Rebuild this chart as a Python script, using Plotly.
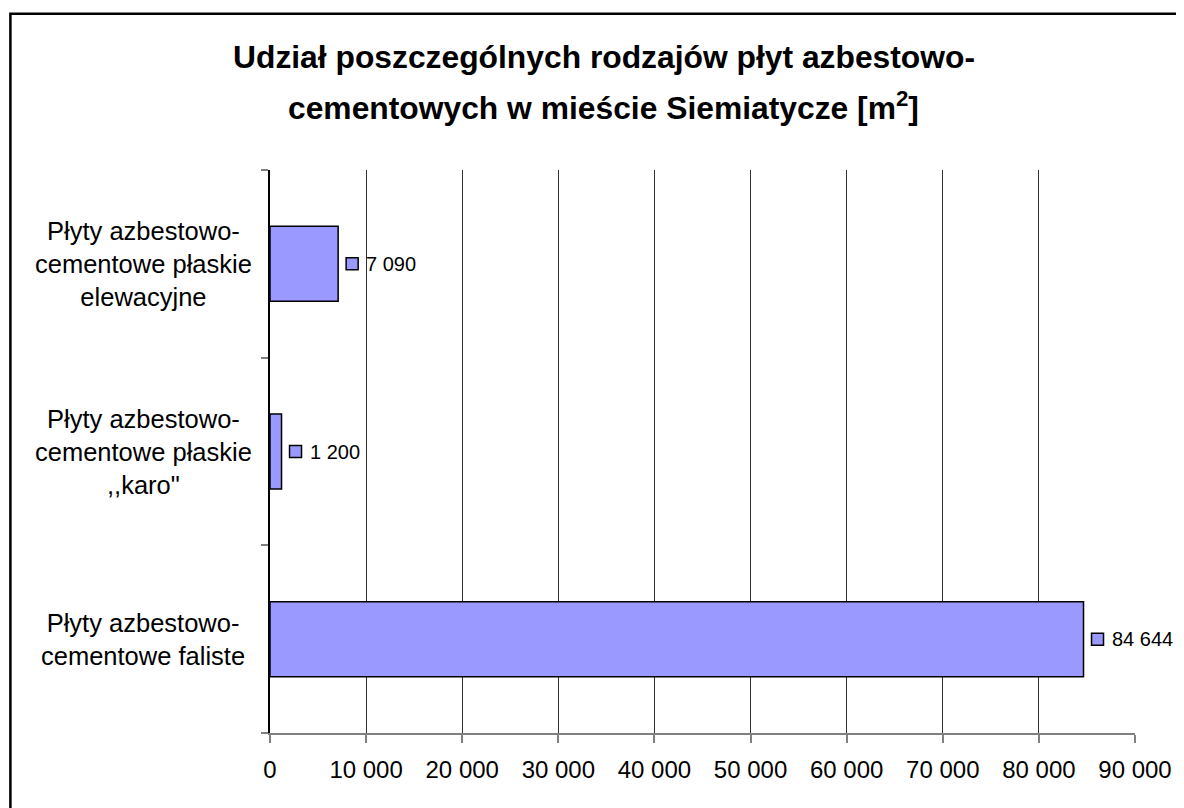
import plotly.graph_objects as go

categories = [
    "Płyty azbestowo-<br>cementowe faliste",
    "Płyty azbestowo-<br>cementowe płaskie<br>,,karo\"",
    "Płyty azbestowo-<br>cementowe płaskie<br>elewacyjne",
]
values = [84644, 1200, 7090]
tick_values = [0, 10000, 20000, 30000, 40000, 50000, 60000, 70000, 80000, 90000]
title_line1 = "Udział poszczególnych rodzajów płyt azbestowo-"
title_line2 = "cementowych w mieście Siemiatycze [m<sup>2</sup>]"

FONT = "Arial, Liberation Sans, sans-serif"
BAR_COLOR = "#9999FF"

# page has an 8px body margin: figure sits at (8, 8)
OFF = 8
W, H = 1184 - OFF, 808 - OFF
L, T = 270 - OFF, 170 - OFF
R = W - (1138 - OFF)
B = H - (733.5 - OFF)
pw, ph = W - L - R, H - T - B


def px_x(p):  # p in screenshot pixels
    return (p - OFF - L) / pw


def px_y(p):
    return (H - B - (p - OFF)) / ph


def fmt(v):
    return f"{v:,}".replace(",", " ")


fig = go.Figure()
fig.add_trace(go.Bar(
    x=values, y=categories, orientation="h", width=0.4,
    marker=dict(color=BAR_COLOR, line=dict(color="black", width=1.5)),
    hoverinfo="skip",
))

annotations = []
shapes = []
# data labels: legend key (pixel-sized square anchored at the bar end) + value
for i, (c, v) in enumerate(zip(categories, values)):
    shapes.append(dict(
        type="rect", xref="x", yref="y",
        xsizemode="pixel", xanchor=v, x0=8, x1=20,
        ysizemode="pixel", yanchor=i, y0=-6, y1=6,
        fillcolor=BAR_COLOR, line=dict(color="black", width=1.5), layer="above",
    ))
    annotations.append(dict(
        x=v, y=c, xref="x", yref="y", text=fmt(v), showarrow=False,
        xanchor="left", yanchor="middle", xshift=26,
        font=dict(family=FONT, size=20, color="black"),
    ))
# category labels (centered)
for c in categories:
    annotations.append(dict(
        x=px_x(143), y=c, xref="paper", yref="y", text=c, showarrow=False,
        xanchor="center", yanchor="middle", align="center",
        font=dict(family=FONT, size=25.5, color="black"),
    ))
# title
annotations.append(dict(
    x=px_x(605), y=px_y(57), xref="paper", yref="paper", text=f"<b>{title_line1}</b>",
    showarrow=False, xanchor="center", yanchor="middle",
    font=dict(family=FONT, size=31.8, color="black"),
))
annotations.append(dict(
    x=px_x(605), y=px_y(106), xref="paper", yref="paper", text=f"<b>{title_line2}</b>",
    showarrow=False, xanchor="center", yanchor="middle",
    font=dict(family=FONT, size=31.8, color="black"),
))

shapes.append(dict(
    type="rect", xref="paper", yref="paper",
    x0=px_x(9.5), x1=px_x(1184 + 20), y0=px_y(808 + 20), y1=px_y(13.5),
    line=dict(color="black", width=2.5), fillcolor="rgba(0,0,0,0)", layer="above",
))

fig.update_layout(
    width=W, height=H,
    margin=dict(l=L, r=R, t=T, b=B),
    paper_bgcolor="white", plot_bgcolor="white",
    showlegend=False,
    separators=". ",
    annotations=annotations,
    shapes=shapes,
    xaxis=dict(
        range=[0, 90000], tickvals=tick_values, tickformat=",d",
        showgrid=True, gridcolor="#333333", gridwidth=1,
        showline=True, linecolor="#808080", linewidth=2,
        ticks="outside", ticklen=8, tickcolor="#808080", tickwidth=1.5,
        tickfont=dict(family=FONT, size=24, color="black"),
        zeroline=False, fixedrange=True, ticklabelstandoff=6,
    ),
    yaxis=dict(
        type="category", categoryorder="array", categoryarray=categories,
        range=[-0.5, 2.5], showticklabels=False,
        showline=True, linecolor="black", linewidth=1.5,
        ticks="outside", ticklen=7, tickcolor="#808080", tickwidth=1.5,
        tickson="boundaries", showgrid=False, zeroline=False, fixedrange=True,
    ),
)

fig.write_html("out.html", config={"displayModeBar": False})
